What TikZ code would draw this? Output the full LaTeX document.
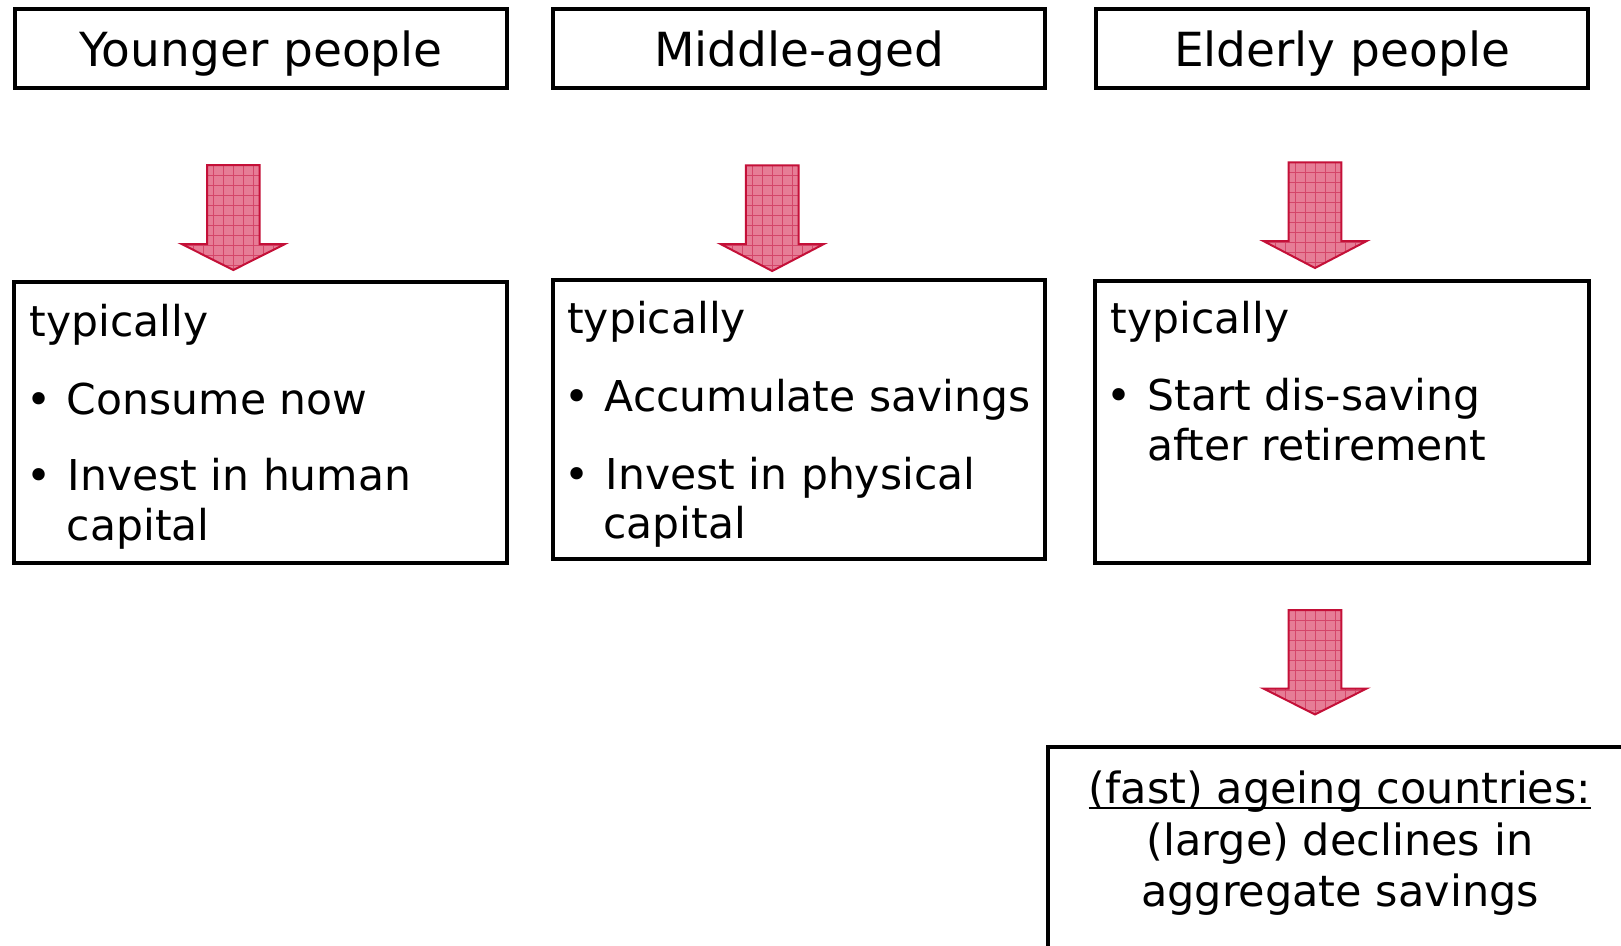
\documentclass[tikz,border=0pt]{standalone}
\usepackage{fontspec}
\setmainfont{DejaVu Sans}
\usetikzlibrary{calc}
\definecolor{arrfill}{RGB}{230,125,150}
\definecolor{arrgrid}{RGB}{212,70,105}
\definecolor{arredge}{RGB}{196,16,56}
\tikzset{
  box/.style={draw=black, line width=4pt},
  headtxt/.style={inner sep=0pt, anchor=base, font=\fontsize{47}{56}\selectfont},
  bodytxt/.style={inner sep=0pt, anchor=base west, font=\fontsize{42.5}{50}\selectfont},
  bultxt/.style={inner sep=0pt, anchor=base, font=\fontsize{42.5}{50}\selectfont},
  endtxt/.style={inner sep=0pt, anchor=base, font=\fontsize{43}{52}\selectfont},
}
% block arrow: centre x, top, shoulder, tip
\newcommand{\blockarrowdraw}[4]{%
  \begin{scope}
    \clip (#1-26.3,#2) -- (#1+26.3,#2) -- (#1+26.3,#3) -- (#1+51.7,#3) -- (#1,#4)
      -- (#1-51.7,#3) -- (#1-26.3,#3) -- cycle;
    \fill[arrfill] (#1-60,#2-5) rectangle (#1+60,#4+5);
    \foreach \k in {-6,...,6} {\draw[arrgrid, line width=1pt] (#1+\k*10,#2-5) -- (#1+\k*10,#4+5);}
    \foreach \k in {0,...,12} {\draw[arrgrid, line width=1pt] (#1-60,#2+\k*10) -- (#1+60,#2+\k*10);}
  \end{scope}
  \draw[arredge, line width=2pt, line join=miter] (#1-26.3,#2) -- (#1+26.3,#2) -- (#1+26.3,#3) -- (#1+51.7,#3) -- (#1,#4)
      -- (#1-51.7,#3) -- (#1-26.3,#3) -- cycle;
}
\begin{document}
\begin{tikzpicture}[x=1pt,y=-1pt]
\clip (0,0) rectangle (1621,945);
\fill[white] (0,0) rectangle (1621,945);

% header boxes
\draw[box] (15.3,8.7) rectangle (507,88);
\draw[box] (553,8.7) rectangle (1044.5,88);
\draw[box] (1096,8.7) rectangle (1587.5,88);
\node[headtxt] (h1) at (261,66) {Younger people};
\node[headtxt] (h2) at (799,66) {Middle-aged};
\node[headtxt] (h3) at (1342,66) {Elderly people};

% arrows
\blockarrowdraw{233.3}{165}{244}{270}
\blockarrowdraw{772.2}{165.4}{244}{271}
\blockarrowdraw{1315}{162.3}{241}{268}
\blockarrowdraw{1315}{610}{688.5}{714.4}

% lower boxes
\draw[box] (14,282) rectangle (507,562.7);
\draw[box] (552.5,280) rectangle (1044.7,559);
\draw[box] (1095.3,281.3) rectangle (1588.5,563);

% box 1 text
\node[bodytxt] (t1) at (29.3,336) {typically};
\node[bultxt] (u1a) at (39,414) {•};
\node[bodytxt] (a1) at (66.7,414) {Consume now};
\node[bultxt] (u1b) at (39,490.7) {•};
\node[bodytxt] (b1) at (67.5,490.7) {Invest in human};
\node[bodytxt] (c1) at (66.7,540) {capital};

% box 2 text
\node[bodytxt] (t2) at (567,333.5) {typically};
\node[bultxt] (u2a) at (577,411.5) {•};
\node[bodytxt] (a2) at (604.5,411.5) {Accumulate savings};
\node[bultxt] (u2b) at (577,489) {•};
\node[bodytxt] (b2) at (605.5,489) {Invest in physical};
\node[bodytxt] (c2) at (603,538.6) {capital};

% box 3 text
\node[bodytxt] (t3) at (1110.3,333.3) {typically};
\node[bultxt] (u3a) at (1119.3,410) {•};
\node[bodytxt] (a3) at (1147.3,410) {Start dis-saving};
\node[bodytxt] (b3) at (1147.3,460.7) {after retirement};

% bottom box
\draw[box] (1048,747) rectangle (1660,990);
\node[endtxt] (e1) at (1340,803) {(fast) ageing countries:};
\node[endtxt] (e2) at (1340,855) {(large) declines in};
\node[endtxt] (e3) at (1340,906.6) {aggregate savings};
\draw[line width=2.2pt] ($(e1.base west)+(0,5)$) -- ($(e1.base east)+(0,5)$);
\end{tikzpicture}
\end{document}
